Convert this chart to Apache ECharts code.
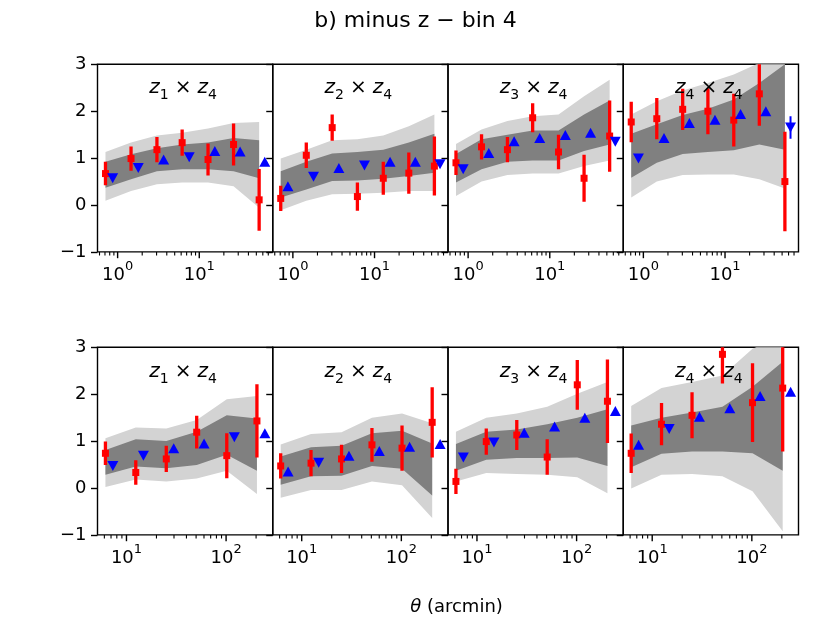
<!DOCTYPE html>
<html><head><meta charset="utf-8">
<script src="https://cdn.jsdelivr.net/npm/echarts@6/dist/echarts.min.js"></script>
<style>html,body{margin:0;padding:0;background:#fff}
#wrap{position:relative;width:831px;height:623px}
#c,#t{position:absolute;left:0;top:0;width:831px;height:623px}
#t{pointer-events:none}</style>
</head><body><div id="wrap"><div id="c"></div><div id="t"></div></div><script>
// ---------- data ----------
const thetaTopRed  = [0.71, 1.46, 3.03, 6.17, 12.8, 26.3, 54.1];
const thetaTopBlue = [0.87, 1.79, 3.66, 7.53, 15.5, 31.6, 63.4];
const thetaBotRed  = [6.15, 12.4, 25.1, 50.7, 101.6, 204];
const thetaBotBlue = [7.3, 14.8, 29.8, 60.1, 121, 245];

const topMajorTicks = [1, 10];
const topMinorTicks = [0.6, 0.7, 0.8, 0.9, 2, 3, 4, 5, 6, 7, 8, 9, 20, 30, 40, 50, 60, 70];
const botMajorTicks = [10, 100];
const botMinorTicks = [6, 7, 8, 9, 20, 30, 40, 50, 60, 70, 80, 90, 200];

// top row, panel 1 (z1 x z4)
const t1Red = [0.67, 0.99, 1.18, 1.33, 0.97, 1.29, 0.11];
const t1Err = [0.25, 0.26, 0.27, 0.28, 0.34, 0.45, 0.66];
const t1Blue = [0.57, 0.79, 0.97, 1.02, 1.15, 1.14, 0.92];
const t1Dir = [-1, -1, 1, -1, 1, 1, 1];
const t1BlueErr = [0, 0, 0, 0, 0, 0, 0];
const t1DarkHi = [0.92, 1.08, 1.21, 1.29, 1.33, 1.43, 1.38];
const t1DarkLo = [0.37, 0.55, 0.72, 0.76, 0.76, 0.72, 0.57];
const t1LightHi = [1.13, 1.33, 1.48, 1.54, 1.63, 1.75, 1.77];
const t1LightLo = [0.09, 0.30, 0.44, 0.48, 0.48, 0.40, -0.06];
// top row, panel 2 (z2 x z4)
const t2Red = [0.14, 1.06, 1.65, 0.18, 0.57, 0.68, 0.83];
const t2Err = [0.27, 0.27, 0.28, 0.30, 0.35, 0.44, 0.63];
const t2Blue = [0.40, 0.60, 0.79, 0.84, 0.92, 0.92, 0.87];
const t2Dir = [1, -1, 1, -1, 1, 1, -1];
const t2BlueErr = [0, 0, 0, 0, 0, 0, 0];
const t2DarkHi = [0.72, 0.92, 1.10, 1.13, 1.18, 1.33, 1.52];
const t2DarkLo = [0.16, 0.33, 0.51, 0.52, 0.56, 0.62, 0.69];
const t2LightHi = [0.99, 1.18, 1.38, 1.40, 1.48, 1.68, 1.93];
const t2LightLo = [-0.11, 0.09, 0.23, 0.24, 0.26, 0.30, 0.30];
// top row, panel 3 (z3 x z4)
const t3Red = [0.90, 1.24, 1.18, 1.86, 1.13, 0.57, 1.47];
const t3Err = [0.26, 0.27, 0.27, 0.31, 0.37, 0.50, 0.76];
const t3Blue = [0.76, 1.11, 1.36, 1.43, 1.49, 1.54, 1.35];
const t3Dir = [-1, 1, 1, 1, 1, 1, -1];
const t3BlueErr = [0, 0, 0, 0, 0, 0, 0];
const t3DarkHi = [1.09, 1.40, 1.50, 1.59, 1.59, 1.93, 2.23];
const t3DarkLo = [0.48, 0.76, 0.92, 0.95, 0.95, 1.15, 1.29];
const t3LightHi = [1.30, 1.61, 1.79, 1.89, 1.93, 2.32, 2.67];
const t3LightLo = [0.19, 0.50, 0.64, 0.67, 0.67, 0.83, 0.95];
// top row, panel 4 (z4 x z4)
const t4Red = [1.77, 1.84, 2.04, 2.00, 1.81, 2.37, 0.50];
const t4Err = [0.43, 0.44, 0.44, 0.49, 0.56, 0.68, 1.06];
const t4Blue = [0.99, 1.43, 1.75, 1.82, 1.94, 2.00, 1.65];
const t4Dir = [-1, 1, 1, 1, 1, 1, -1];
const t4BlueErr = [0, 0, 0, 0, 0, 0, 0.24];
const t4DarkHi = [1.52, 1.72, 1.92, 2.05, 2.25, 2.60, 3.00];
const t4DarkLo = [0.58, 0.90, 1.09, 1.13, 1.17, 1.29, 1.18];
const t4LightHi = [1.93, 2.21, 2.44, 2.60, 2.78, 3.03, 3.20];
const t4LightLo = [0.16, 0.50, 0.64, 0.65, 0.65, 0.55, 0.35];
// bottom row, panel 1
const b1Red = [0.74, 0.33, 0.62, 1.19, 0.69, 1.43];
const b1Err = [0.25, 0.26, 0.28, 0.35, 0.48, 0.78];
const b1Blue = [0.47, 0.69, 0.85, 0.95, 1.08, 1.17];
const b1Dir = [-1, -1, 1, 1, -1, 1];
const b1BlueErr = [0, 0, 0, 0, 0, 0];
const b1DarkHi = [0.81, 1.04, 1.00, 1.20, 1.55, 1.48];
const b1DarkLo = [0.28, 0.46, 0.42, 0.49, 0.71, 0.37];
const b1LightHi = [1.06, 1.29, 1.27, 1.45, 1.89, 1.96];
const b1LightLo = [0.02, 0.18, 0.14, 0.20, 0.37, -0.13];
// bottom row, panel 2
const b2Red = [0.47, 0.53, 0.62, 0.92, 0.85, 1.40];
const b2Err = [0.27, 0.28, 0.30, 0.36, 0.48, 0.75];
const b2Blue = [0.35, 0.54, 0.69, 0.79, 0.88, 0.94];
const b2Dir = [1, -1, 1, 1, 1, 1];
const b2BlueErr = [0, 0, 0, 0, 0, 0];
const b2DarkHi = [0.67, 0.87, 0.90, 1.17, 1.22, 0.95];
const b2DarkLo = [0.07, 0.25, 0.26, 0.47, 0.41, -0.16];
const b2LightHi = [0.93, 1.15, 1.19, 1.50, 1.59, 1.38];
const b2LightLo = [-0.21, -0.04, -0.04, 0.14, 0.06, -0.64];
// bottom row, panel 3
const b3Red = [0.14, 0.99, 1.13, 0.66, 2.20, 1.85];
const b3Err = [0.27, 0.28, 0.32, 0.38, 0.53, 0.89];
const b3Blue = [0.65, 0.97, 1.18, 1.31, 1.50, 1.64];
const b3Dir = [-1, -1, 1, 1, 1, 1];
const b3BlueErr = [0, 0, 0, 0, 0, 0];
const b3DarkHi = [0.94, 1.20, 1.25, 1.36, 1.50, 1.68];
const b3DarkLo = [0.37, 0.60, 0.64, 0.64, 0.65, 0.47];
const b3LightHi = [1.20, 1.50, 1.59, 1.73, 2.01, 2.26];
const b3LightLo = [0.14, 0.32, 0.30, 0.28, 0.23, -0.11];
// bottom row, panel 4
const b4Red = [0.74, 1.36, 1.55, 2.85, 1.82, 2.13];
const b4Err = [0.42, 0.45, 0.49, 0.62, 0.84, 1.35];
const b4Blue = [0.92, 1.26, 1.52, 1.70, 1.96, 2.05];
const b4Dir = [1, -1, 1, 1, 1, 1];
const b4BlueErr = [0, 0, 0, 0, 0, 0];
const b4DarkHi = [1.33, 1.50, 1.61, 1.73, 2.16, 2.69];
const b4DarkLo = [0.44, 0.73, 0.78, 0.78, 0.74, 0.37];
const b4LightHi = [1.75, 2.13, 2.26, 2.40, 2.97, 3.25];
const b4LightLo = [-0.01, 0.28, 0.30, 0.25, -0.07, -0.92];

const panelLabels = [['1','4'], ['2','4'], ['3','4'], ['4','4']];
const titleText = 'b) minus z \u2212 bin 4';

// ---------- build ----------
const FONT = 'DejaVu Sans';
const panels = [
  {row:0,col:0,xr:thetaTopRed,xb:thetaTopBlue,red:t1Red,err:t1Err,blue:t1Blue,dir:t1Dir,be:t1BlueErr,dh:t1DarkHi,dl:t1DarkLo,lh:t1LightHi,ll:t1LightLo},
  {row:0,col:1,xr:thetaTopRed,xb:thetaTopBlue,red:t2Red,err:t2Err,blue:t2Blue,dir:t2Dir,be:t2BlueErr,dh:t2DarkHi,dl:t2DarkLo,lh:t2LightHi,ll:t2LightLo},
  {row:0,col:2,xr:thetaTopRed,xb:thetaTopBlue,red:t3Red,err:t3Err,blue:t3Blue,dir:t3Dir,be:t3BlueErr,dh:t3DarkHi,dl:t3DarkLo,lh:t3LightHi,ll:t3LightLo},
  {row:0,col:3,xr:thetaTopRed,xb:thetaTopBlue,red:t4Red,err:t4Err,blue:t4Blue,dir:t4Dir,be:t4BlueErr,dh:t4DarkHi,dl:t4DarkLo,lh:t4LightHi,ll:t4LightLo},
  {row:1,col:0,xr:thetaBotRed,xb:thetaBotBlue,red:b1Red,err:b1Err,blue:b1Blue,dir:b1Dir,be:b1BlueErr,dh:b1DarkHi,dl:b1DarkLo,lh:b1LightHi,ll:b1LightLo},
  {row:1,col:1,xr:thetaBotRed,xb:thetaBotBlue,red:b2Red,err:b2Err,blue:b2Blue,dir:b2Dir,be:b2BlueErr,dh:b2DarkHi,dl:b2DarkLo,lh:b2LightHi,ll:b2LightLo},
  {row:1,col:2,xr:thetaBotRed,xb:thetaBotBlue,red:b3Red,err:b3Err,blue:b3Blue,dir:b3Dir,be:b3BlueErr,dh:b3DarkHi,dl:b3DarkLo,lh:b3LightHi,ll:b3LightLo},
  {row:1,col:3,xr:thetaBotRed,xb:thetaBotBlue,red:b4Red,err:b4Err,blue:b4Blue,dir:b4Dir,be:b4BlueErr,dh:b4DarkHi,dl:b4DarkLo,lh:b4LightHi,ll:b4LightLo}
];

const L0 = 97.5, PW = 175.25, TOPS = [64.3, 347.3], PH = 187.6;
const XR = [[0.567, 79.4], [5.12, 294]];

const grid = [], xAxis = [], yAxis = [], series = [], graphic = [];

function supLabel(v) {
  const e = Math.round(Math.log10(v));
  return '{b|10}{s|' + e + '}';
}

panels.forEach((p, i) => {
  const left = L0 + p.col * PW, top = TOPS[p.row];
  grid.push({left: left, top: top, width: PW, height: PH, show: true,
    borderColor: '#000', borderWidth: 1.4});
  const majors = p.row === 0 ? topMajorTicks : botMajorTicks;
  xAxis.push({type: 'log', gridIndex: i, min: XR[p.row][0], max: XR[p.row][1],
    axisLine: {show: false, onZero: false}, splitLine: {show: false}, axisTick: {show: false},
    axisLabel: {show: true, customValues: majors, formatter: supLabel, margin: 8, color: '#000',
      rich: {
        b: {fontFamily: FONT, fontSize: 18, color: '#000', lineHeight: 18, padding: [6, 0, 0, 0], verticalAlign: 'top'},
        s: {fontFamily: FONT, fontSize: 13, color: '#000', lineHeight: 13, verticalAlign: 'top'}
      }}
  });
  yAxis.push({type: 'value', gridIndex: i, min: -1, max: 3, interval: 1,
    axisLine: {show: false, onZero: false}, splitLine: {show: false},
    axisTick: {show: true, length: 6.5, lineStyle: {color: '#000', width: 1.4}},
    axisLabel: {show: p.col === 0, margin: 11, fontFamily: FONT, fontSize: 18, color: '#000',
      formatter: v => (v < 0 ? '\u2212' + Math.abs(v) : String(v))}
  });
});

function bandSeries(i, xs, lo, hi, color) {
  return {
    type: 'custom', xAxisIndex: i, yAxisIndex: i, clip: true, silent: true, z: 1,
    data: xs.map((x, k) => [x, lo[k], hi[k]]),
    renderItem: function (params, api) {
      if (params.dataIndex !== 0) return null;
      const pts = [];
      for (let k = 0; k < xs.length; k++) pts.push(api.coord([xs[k], hi[k]]));
      for (let k = xs.length - 1; k >= 0; k--) pts.push(api.coord([xs[k], lo[k]]));
      return {type: 'polygon', shape: {points: pts}, style: {fill: color, stroke: null}};
    }
  };
}
function errSeries(i, xs, ys, es, color, w) {
  return {
    type: 'custom', xAxisIndex: i, yAxisIndex: i, clip: true, silent: true, z: 3,
    data: xs.map((x, k) => [x, ys[k], es[k]]),
    renderItem: function (params, api) {
      const x = api.value(0), y = api.value(1), e = api.value(2);
      if (!e) return null;
      const a = api.coord([x, y - e]), b = api.coord([x, y + e]);
      return {type: 'line', shape: {x1: a[0], y1: a[1], x2: b[0], y2: b[1]},
        style: {stroke: color, lineWidth: w}};
    }
  };
}

panels.forEach((p, i) => {
  series.push(bandSeries(i, p.xr, p.ll, p.lh, '#d3d3d3'));
  series.push(bandSeries(i, p.xr, p.dl, p.dh, '#808080'));
  series.push(errSeries(i, p.xr, p.red, p.err, '#ff0000', 3.3));
  series.push({type: 'scatter', xAxisIndex: i, yAxisIndex: i, silent: true, z: 4,
    symbol: 'rect', symbolSize: 7, itemStyle: {color: '#ff0000', opacity: 1},
    data: p.xr.map((x, k) => [x, p.red[k]])});
  series.push(errSeries(i, p.xb, p.blue, p.be, '#0000ff', 2));
  series.push({type: 'scatter', xAxisIndex: i, yAxisIndex: i, silent: true, z: 5,
    symbol: 'triangle', symbolSize: [11, 10], itemStyle: {color: '#0000ff', opacity: 1},
    data: p.xb.map((x, k) => ({value: [x, p.blue[k]], symbolRotate: p.dir[k] < 0 ? 180 : 0}))});
  const lab = panelLabels[p.col];
  graphic.push({type: 'text', z: 100, silent: true,
    x: L0 + p.col * PW + PW / 2 - 2, y: TOPS[p.row] + (p.row === 0 ? 23 : 24),
    style: {text: '{z|z}{s|' + lab[0] + '}{x|\u00d7}{z|z}{s|' + lab[1] + '}',
      align: 'center', verticalAlign: 'middle', fill: '#000',
      rich: {
        z: {fontFamily: FONT, fontStyle: 'italic', fontSize: 20, lineHeight: 20, verticalAlign: 'top', fill: '#000'},
        s: {fontFamily: FONT, fontSize: 14, lineHeight: 14, padding: [11, 0, 0, 0], verticalAlign: 'top', fill: '#000'},
        x: {fontFamily: FONT, fontSize: 20, lineHeight: 20, padding: [0, 6, 0, 6], verticalAlign: 'top', fill: '#000'}
      }}
  });
});

graphic.push({type: 'text', silent: true, x: 415.5, y: 21,
  style: {text: titleText, font: '22px "DejaVu Sans"', fill: '#000', align: 'center', verticalAlign: 'middle'}});
graphic.push({type: 'text', silent: true, x: 456.5, y: 607,
  style: {text: '{t|\u03b8} (arcmin)', fill: '#000', align: 'center', verticalAlign: 'middle',
    font: '18px "DejaVu Sans"',
    rich: {t: {fontFamily: FONT, fontStyle: 'italic', fontSize: 18, fill: '#000'}}}});

const chart = echarts.init(document.getElementById('c'), null, {renderer: 'canvas'});
chart.setOption({
  animation: false,
  backgroundColor: '#fff',
  textStyle: {fontFamily: FONT},
  grid: grid, xAxis: xAxis, yAxis: yAxis, series: series, graphic: graphic
});

// ---------- overlay instance for the log-axis tick marks ----------
const tGrid = [], tX = [], tY = [], tSeries = [];
function tickSeries(i, majors, minors) {
  const data = majors.map(v => [v, 1]).concat(minors.map(v => [v, 0]));
  return {
    type: 'custom', xAxisIndex: i, yAxisIndex: i, clip: false, silent: true, z: 20,
    data: data,
    renderItem: function (params, api) {
      const x = api.value(0), major = api.value(1) === 1;
      const c = api.coord([x, -1]);
      const len = major ? 6.3 : 3.6;
      return {type: 'line', shape: {x1: c[0], y1: c[1], x2: c[0], y2: c[1] + len},
        style: {stroke: '#000', lineWidth: major ? 1.4 : 1.1}};
    }
  };
}
panels.forEach((p, i) => {
  tGrid.push({left: L0 + p.col * PW, top: TOPS[p.row], width: PW, height: PH, show: false});
  tX.push({type: 'log', gridIndex: i, min: XR[p.row][0], max: XR[p.row][1],
    axisLine: {show: false, onZero: false}, splitLine: {show: false}, axisTick: {show: false}, axisLabel: {show: false}});
  tY.push({type: 'value', gridIndex: i, min: -1, max: 3,
    axisLine: {show: false, onZero: false}, splitLine: {show: false}, axisTick: {show: false}, axisLabel: {show: false}});
  tSeries.push(tickSeries(i, p.row === 0 ? topMajorTicks : botMajorTicks, p.row === 0 ? topMinorTicks : botMinorTicks));
});
const tickChart = echarts.init(document.getElementById('t'), null, {renderer: 'canvas'});
tickChart.setOption({
  animation: false,
  backgroundColor: 'transparent',
  grid: tGrid, xAxis: tX, yAxis: tY, series: tSeries
});
</script></body></html>
